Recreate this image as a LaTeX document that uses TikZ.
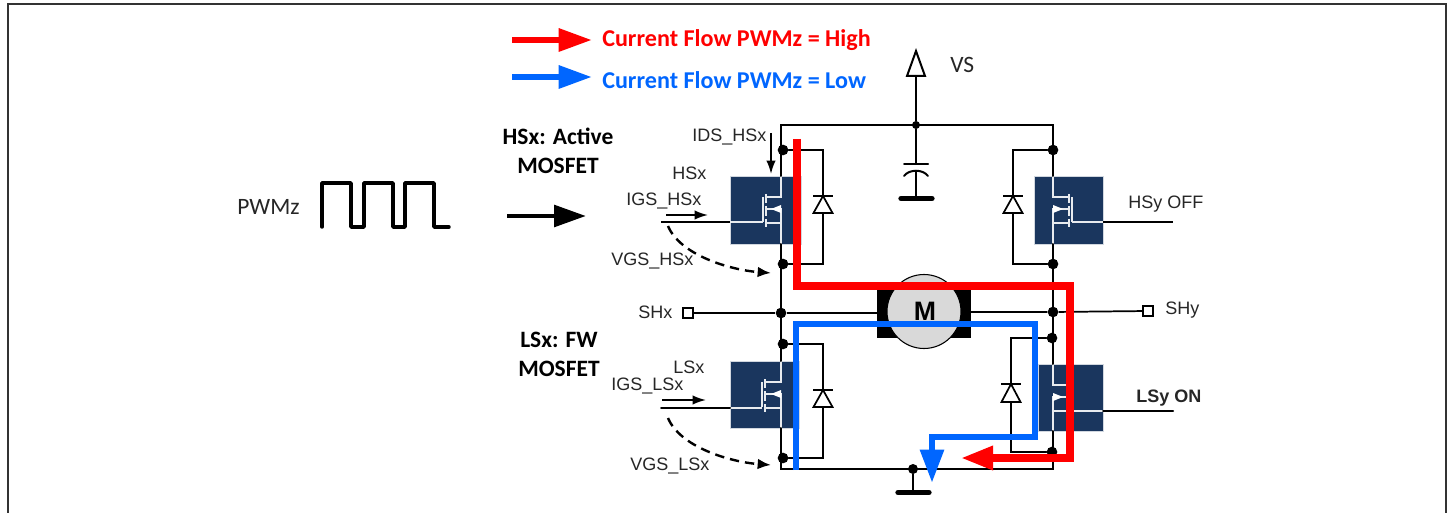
\documentclass[tikz,border=0pt]{standalone}
\usepackage{fontspec}
\setmainfont{Liberation Sans}
\newfontfamily\calfont{Carlito}
\usetikzlibrary{arrows.meta}
\definecolor{mosblue}{HTML}{1A365E}
\definecolor{flowblue}{HTML}{0066FF}
\definecolor{motorgray}{HTML}{D9D9D9}
\tikzset{
  wire/.style={line width=1.5pt,black,line cap=round},
  thin wire/.style={line width=1.3pt,black},
  mosbox/.style={fill=mosblue,draw=white!80!mosblue,line width=.5pt},
  mos line/.style={white!90!mosblue,line width=1pt},
  junction/.style={circle,fill=black,inner sep=0pt,minimum size=8pt},
  lab/.style={font=\fontsize{13.5pt}{15pt}\selectfont,inner sep=0pt,text=black!85},
  cal lab/.style={font=\calfont\bfseries\fontsize{17.6pt}{21.8pt}\selectfont,inner sep=0pt,align=center},
  legend lab/.style={font=\calfont\bfseries\fontsize{18.1pt}{21.8pt}\selectfont,inner sep=0pt},
  cal plain/.style={font=\calfont\fontsize{17.6pt}{20pt}\selectfont,inner sep=0pt,text=black!85},
  redflow/.style={red,line width=5.4pt,line cap=butt,line join=miter},
  blueflow/.style={flowblue,line width=5pt,line cap=butt,line join=miter},
  term/.style={draw=black,fill=white,line width=1pt,minimum size=7.5pt,inner sep=0pt,rectangle},
  small arrow/.style={line width=1.3pt,-{Latex[length=10pt,width=7pt]}},
  dash arrow/.style={line width=1.8pt,dash pattern=on 7pt off 4.5pt,-{Latex[length=10pt,width=8pt]}},
  gnd/.style={line width=4pt,line cap=round},
}
\newcommand{\mosfet}[9]{%
 \node[mosbox,minimum width=#3 pt*.75-#1 pt*.75,minimum height=#4 pt*.75-#2 pt*.75,inner sep=0pt,anchor=north west] (#9) at (#1,#2) {};
 \draw[mos line] (#5,#2) -- (#5,#2+21) -- (#7,#2+21);
 \draw[mos line] (#5,#4) -- (#5,#2+33) -- (#7,#2+33);
 \draw[mos line] (#5,#2+47) -- (#7,#2+47);
 \draw[mos line] (#6,#2+21) -- (#6,#2+46);
 \draw[mos line,line width=1.2pt] (#7,#2+18) -- (#7,#2+27) (#7,#2+30) -- (#7,#2+40) (#7,#2+43) -- (#7,#2+51);
 \fill[white] (#5,#2+29) -- (#5,#2+37) -- (#5+#8*10,#2+33) -- cycle;
}
\newcommand{\diode}[3]{%
 \draw[thin wire,fill=white] (#1,#2) -- (#1-9.5,#3) -- (#1+9.5,#3) -- cycle;
 \draw[thin wire] (#1-10,#2) -- (#1+10,#2);
}
\begin{document}
\begin{tikzpicture}[x=.75pt,y=-.75pt]
\useasboundingbox (0,0) rectangle (1453,513);
\fill[white] (0,0) rectangle (1453,513);
\draw[line width=.9pt,black!80] (8,513) -- (8,4) -- (1446,4) -- (1446,513);

% legend
\coordinate (lr1) at (512,40); \coordinate (lr2) at (592,40);
\coordinate (lb1) at (512,77); \coordinate (lb2) at (592,77);
\draw[red,line width=4.6pt,-{Triangle[length=25pt,width=16.5pt]}] (lr1) -- (lr2);
\draw[flowblue,line width=4.6pt,-{Triangle[length=25pt,width=16.5pt]}] (lb1) -- (lb2);
\node[legend lab,text=red,anchor=west] (lt1) at (602,40) {Current Flow PWMz = High};
\node[legend lab,text=flowblue,anchor=west] (lt2) at (602,80) {Current Flow PWMz = Low};

% PWM
\node[cal plain,anchor=west] (pwm) at (237,207) {PWMz};
\draw[line width=2.6pt,line join=round,line cap=round] (322,227) -- (322,183) -- (351,183) -- (351,227) -- (364,227) -- (364,183) -- (393,183) -- (393,227) -- (405,227) -- (405,183) -- (434,183) -- (434,227) -- (449,227);
\coordinate (ba1) at (507,216); \coordinate (ba2) at (586,216);
\draw[black,line width=3.6pt,-{Triangle[length=24pt,width=16pt]}] (ba1) -- (ba2);
\node[cal lab,anchor=center] (hsl) at (558,151) {HSx: Active\\MOSFET};
\node[cal lab,anchor=center] (lsl) at (559,354) {LSx: FW\\MOSFET};

% MOSFET boxes
\mosfet{730}{176}{801}{244}{781}{763}{766}{-1}{hsx}
\mosfet{1034}{176}{1103}{244}{1053}{1072}{1069}{1}{hsy}
\mosfet{730}{361}{799}{428}{781}{762}{765}{-1}{lsx}
\mosfet{1038}{364}{1103}{431}{1053}{1073}{1069}{1}{lsy}
\draw[mos line] (730,222) -- (763,222);
\draw[mos line] (1072,222) -- (1103,222);
\draw[mos line] (730,408) -- (762,408);
\draw[mos line] (1073,411) -- (1103,411);

% rails
\coordinate (tl) at (781,125); \coordinate (tr) at (1053,125);
\coordinate (bl) at (781,469); \coordinate (br) at (1053,469);
\node[junction,minimum size=6pt] (vsj) at (916,125) {};
\draw[wire] (781,176) -- (tl) -- (tr) -- (1053,176);
\draw[wire] (781,244) -- (781,361);
\draw[wire] (1053,244) -- (1053,364);
\draw[wire] (781,428) -- (bl) -- (br) -- (1053,431);

% diodes & clamps
\node[junction] (h1) at (783,150) {};
\node[junction] (h2) at (783,264) {};
\node[junction] (h3) at (1053,150) {};
\node[junction] (h4) at (1053,264) {};
\node[junction] (l1) at (783,344) {};
\node[junction] (l2) at (783,458) {};
\node[junction] (l3) at (1052,338) {};
\node[junction] (l4) at (1052,452) {};
\draw[wire] (h1) -- (823,150) -- (823,264) -- (h2);
\draw[wire] (h3) -- (1013,150) -- (1013,264) -- (h4);
\draw[wire] (l1) -- (823,344) -- (823,458) -- (l2);
\draw[wire] (l3) -- (1011,338) -- (1011,452) -- (l4);
\diode{823}{196}{213}
\diode{1013}{196}{213}
\diode{823}{390}{407}
\diode{1011}{384}{402}

% gate lines
\coordinate (g1) at (661,222); \coordinate (g2) at (1173,222);
\coordinate (g3) at (661,408); \coordinate (g4) at (1173,411);
\draw[thin wire] (g1) -- (730,222);
\draw[thin wire] (1103,222) -- (g2);
\draw[wire] (g3) -- (730,408);
\draw[wire] (1103,411) -- (g4);

% SH terminals
\node[term] (shxt) at (688,313) {};
\node[term] (shyt) at (1148,311) {};
\node[junction] (shxj) at (781,313) {};
\node[junction] (shyj) at (1053,312) {};
\draw[thin wire] (shxt) -- (shxj) -- (877,313);
\draw[thin wire] (971,312) -- (shyj) -- (shyt);

% motor
\fill[black] (877,289) rectangle (971,338);
\node[circle,draw=black,line width=.8pt,fill=motorgray,minimum size=55.5pt,inner sep=0pt] (motor) at (924,311.5) {};
\node[font=\bfseries\fontsize{20pt}{22pt}\selectfont,inner sep=0pt] (mt) at (925,311) {M};

% VS and capacitor
\coordinate (vstop) at (916,76);
\draw[wire,fill=white,line join=miter] (916,51) -- (907,76) -- (925,76) -- cycle;
\draw[wire] (vstop) -- (vsj);
\draw[wire] (vsj) -- (916,164);
\draw[wire] (904,164) -- (928,164);
\draw[wire] (904,176) .. controls (909,169) and (923,169) .. (928,176);
\draw[wire] (916,171) -- (916,198);
\draw[gnd] (901,198.5) -- (932,198.5);
\node[cal plain,anchor=west] (vs) at (950,65) {VS};

% ground
\node[junction,minimum size=7.5pt] (gj) at (913,469) {};
\draw[wire] (gj) -- (913,492);
\draw[gnd] (898,492.5) -- (929,492.5);

% current flows
\coordinate (r0) at (797,139); \coordinate (r1) at (797,286); \coordinate (r2) at (1070,286); \coordinate (r3) at (1070,458); \coordinate (r4) at (961,458);
\draw[redflow,-{Triangle[length=24pt,width=17pt]}] (r0) -- (r1) -- (r2) -- (r3) -- (r4);
\coordinate (b0) at (796,470); \coordinate (b1) at (796,324); \coordinate (b2) at (1035,324); \coordinate (b3) at (1035,437); \coordinate (b4) at (932,437); \coordinate (b5) at (932,483);
\draw[blueflow,-{Triangle[length=25pt,width=17pt]}] (b0) -- (b1) -- (b2) -- (b3) -- (b4) -- (b5);

% sensing arrows
\coordinate (i1a) at (771,133); \coordinate (i1b) at (771,174);
\draw[small arrow] (i1a) -- (i1b);
\coordinate (i2a) at (666,215); \coordinate (i2b) at (708,215);
\draw[small arrow] (i2a) -- (i2b);
\coordinate (i3a) at (662,400); \coordinate (i3b) at (706,400);
\draw[small arrow] (i3a) -- (i3b);
\coordinate (v1a) at (668,226); \coordinate (v1b) at (771,273);
\draw[dash arrow] (v1a) .. controls (680,255) and (730,270) .. (v1b);
\coordinate (v2a) at (668,418); \coordinate (v2b) at (771,465);
\draw[dash arrow] (v2a) .. controls (680,447) and (730,462) .. (v2b);

% labels
\node[lab,anchor=west] (tids) at (692,137) {IDS\_HSx};
\node[lab,anchor=west] (ths) at (672,173) {HSx};
\node[lab,anchor=west] (tigs) at (626,201) {IGS\_HSx};
\node[lab,anchor=west] (tvgs) at (611,261) {VGS\_HSx};
\node[lab,anchor=west] (tls) at (673,367) {LSx};
\node[lab,anchor=west] (tigl) at (611,386) {IGS\_LSx};
\node[lab,anchor=west] (tvgl) at (630,466) {VGS\_LSx};
\node[lab,anchor=west] (tshx) at (638,312) {SHx};
\node[lab,anchor=west] (tshy) at (1165,310) {SHy};
\node[lab,anchor=west] (thsy) at (1128,204) {HSy OFF};
\node[lab,font=\bfseries\fontsize{13.5pt}{15pt}\selectfont,anchor=west] (tlsy) at (1136,398) {LSy ON};
\end{tikzpicture}
\end{document}
